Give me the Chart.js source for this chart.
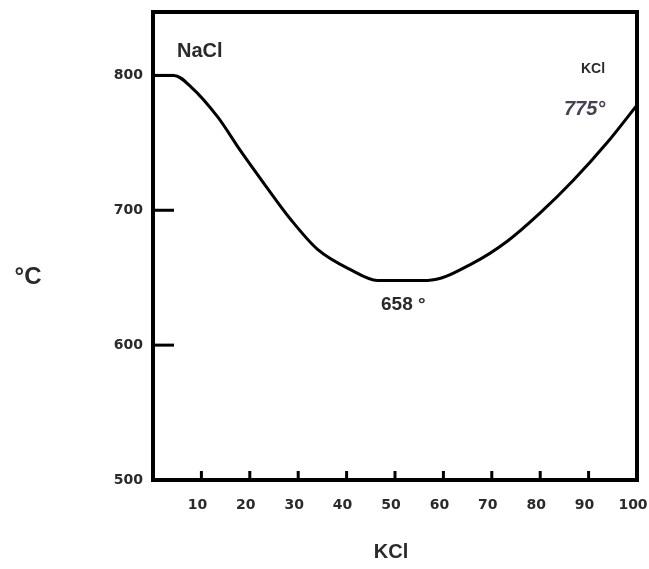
<!DOCTYPE html>
<html>
<head>
<meta charset="utf-8">
<script src="https://cdn.jsdelivr.net/npm/chart.js@4/dist/chart.umd.min.js"></script>
<style>
  html, body { margin: 0; padding: 0; background: #fff; }
  #wrap { width: 649px; height: 569px; }
</style>
</head>
<body>
<div id="wrap"><canvas id="chart"></canvas></div>
<script>
// KCl content (%) and liquidus temperature
const kclPercent = [0, 4.3, 8.0, 13.4, 18.1, 22.9, 28.5, 34.0, 40.8, 46.4, 56.7, 66.2, 73.2, 80.0, 86.8, 93.8, 100];
const temperature = [800, 800, 791, 769, 744, 720, 693, 671, 656, 648, 648, 661, 677, 698, 722, 750, 778];
const xTicks = [10, 20, 30, 40, 50, 60, 70, 80, 90, 100];
const yTicks = [500, 600, 700, 800];

const textColor = '#2a2a2a';

const framePlugin = {
    id: 'frame',
    afterDraw(chart) {
        const ctx = chart.ctx;
        const area = chart.chartArea;
        const xs = chart.scales.x;
        const ys = chart.scales.y;
        ctx.save();
        ctx.strokeStyle = '#000';
        ctx.lineWidth = 4;
        ctx.strokeRect(area.left, area.top, area.right - area.left, area.bottom - area.top);

        // inward tick marks
        ctx.lineWidth = 3;
        yTicks.forEach(v => {
            if (v === 500) return;
            const y = ys.getPixelForValue(v);
            ctx.beginPath();
            ctx.moveTo(area.left, y);
            ctx.lineTo(area.left + 21, y);
            ctx.stroke();
        });
        xTicks.forEach(v => {
            if (v === 100) return;
            const x = xs.getPixelForValue(v);
            ctx.beginPath();
            ctx.moveTo(x, area.bottom);
            ctx.lineTo(x, area.bottom - 9);
            ctx.stroke();
        });

        ctx.fillStyle = textColor;
        ctx.textBaseline = 'middle';
        ctx.textAlign = 'left';
        ctx.font = 'bold 20px "Liberation Sans", Arial, sans-serif';
        ctx.fillText('NaCl', 177, 51);

        ctx.font = 'bold 14px "Liberation Sans", Arial, sans-serif';
        ctx.fillText('KCl', 581, 69);

        ctx.fillStyle = '#4a4052';
        ctx.font = 'italic bold 20px "Liberation Sans", Arial, sans-serif';
        ctx.fillText('775°', 564, 109);

        ctx.fillStyle = textColor;
        ctx.font = 'bold 19px "Liberation Sans", Arial, sans-serif';
        ctx.fillText('658 °', 381, 305);

        ctx.textAlign = 'center';
        ctx.font = 'bold 20px "Liberation Sans", Arial, sans-serif';
        ctx.fillText('KCl', 391, 552);

        ctx.font = 'bold 24px "Liberation Sans", Arial, sans-serif';
        ctx.fillText('°C', 28, 277);
        ctx.restore();
    }
};

new Chart(document.getElementById('chart'), {
    type: 'line',
    data: {
        datasets: [{
            data: kclPercent.map((x, i) => ({ x: x, y: temperature[i] })),
            borderColor: '#000',
            borderWidth: 3,
            pointRadius: 0,
            fill: false,
            cubicInterpolationMode: 'monotone'
        }]
    },
    options: {
        responsive: true,
        maintainAspectRatio: false,
        animation: false,
        layout: { padding: { top: 12, right: 12, left: 0, bottom: 0 } },
        plugins: {
            legend: { display: false },
            tooltip: { enabled: false }
        },
        scales: {
            x: {
                type: 'linear',
                min: 0,
                max: 100,
                grid: { display: false, drawTicks: false },
                border: { display: false },
                afterBuildTicks: scale => { scale.ticks = xTicks.map(v => ({ value: v })); },
                afterFit: scale => {
                    scale.height = 89;
                    scale.paddingLeft = 0;
                    scale.paddingRight = 0;
                },
                ticks: {
                    color: textColor,
                    padding: 17,
                    labelOffset: -4,
                    maxRotation: 0,
                    autoSkip: false,
                    font: { family: '"DejaVu Sans", sans-serif', size: 14, weight: 'bold' }
                }
            },
            y: {
                min: 500,
                max: 847,
                grid: { display: false, drawTicks: false },
                border: { display: false },
                afterBuildTicks: scale => { scale.ticks = yTicks.map(v => ({ value: v })); },
                afterFit: scale => {
                    scale.width = 153;
                    scale.paddingTop = 0;
                    scale.paddingBottom = 0;
                },
                ticks: {
                    color: textColor,
                    padding: 10,
                    autoSkip: false,
                    font: { family: '"DejaVu Sans", sans-serif', size: 14, weight: 'bold' }
                }
            }
        }
    },
    plugins: [framePlugin]
});
</script>
</body>
</html>
